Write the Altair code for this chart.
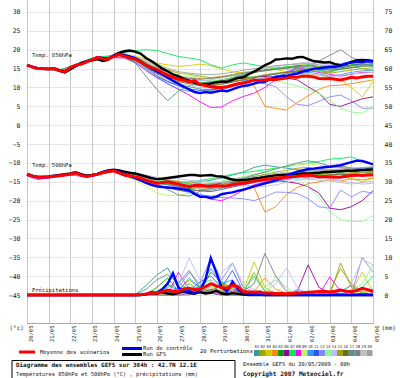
import altair as alt
import pandas as pd

MONO = "DejaVu Sans Mono"

# ---------------- axes / categories ----------------
dates = ["20/05", "21/05", "22/05", "23/05", "24/05", "25/05", "26/05", "27/05", "28/05",
         "29/05", "30/05", "31/05", "01/06", "02/06", "03/06", "04/06", "05/06"]
day_hours = list(range(0, 385, 24))
hours6 = list(range(0, 385, 6))
hours12 = list(range(0, 385, 12))
y_levels = list(range(-45, 31, 5))

member_ids = ["01", "02", "03", "04", "05", "06", "07", "08", "09", "10",
              "11", "12", "13", "14", "15", "16", "17", "18", "19", "20"]
member_colors = ["#339999", "#99a800", "#d4c800", "#ff8800", "#00a000", "#990099", "#00ee55",
                 "#ff00ff", "#c8f060", "#3399ff", "#3355ee", "#8888ff", "#88ff88", "#bbbbff",
                 "#a0a000", "#6b6b2a", "#5a9090", "#808080", "#c0c0c0", "#a0a0a0"]

# ---------------- main series (6 h steps) ----------------
mean_t850 = [15.9, 15.4, 15.0, 15.0, 14.9, 15.0, 14.5, 14.2, 15.3, 15.9, 16.2, 16.8, 17.3, 18.0, 17.6, 17.5,
             18.2, 18.7, 18.3, 17.8, 17.5, 16.8, 16.0, 15.3, 14.8, 14.0, 13.3, 12.7, 12.2, 12.0, 11.5, 11.8,
             10.8, 10.5, 10.2, 10.0, 10.0, 10.2, 10.6, 11.0, 11.2, 11.5, 12.0, 11.8, 12.0, 12.2, 12.1, 12.3,
             12.5, 12.8, 12.7, 13.0, 13.0, 12.8, 12.4, 12.3, 12.4, 12.2, 12.0, 12.3, 12.7, 12.5, 12.8, 13.0,
             13.0]
gfs_t850 = [15.9, 15.4, 15.0, 14.9, 14.9, 15.0, 14.4, 14.0, 14.8, 15.6, 16.5, 17.0, 17.2, 17.6, 17.0, 17.3,
            18.5, 19.2, 19.6, 19.8, 19.5, 19.0, 17.8, 17.0, 16.0, 15.0, 14.3, 13.5, 13.0, 12.3, 11.8, 11.3,
            10.8, 10.8, 11.0, 11.4, 11.5, 11.5, 12.0, 12.5, 12.7, 13.5, 14.2, 15.0, 15.9, 16.5, 17.4, 17.5,
            17.7, 17.6, 18.0, 18.1, 17.5, 17.0, 16.8, 16.6, 16.7, 16.2, 15.9, 16.2, 16.8, 17.2, 17.3, 17.2,
            17.0]
ctrl_t850 = [15.9, 15.5, 15.1, 15.0, 14.9, 15.1, 14.6, 14.3, 15.2, 15.8, 16.3, 16.9, 17.4, 18.0, 17.8, 17.6,
             18.4, 18.9, 18.6, 18.2, 17.8, 17.0, 16.0, 15.0, 14.2, 13.5, 12.6, 11.8, 11.0, 10.2, 9.5, 8.8,
             8.5, 8.8, 8.6, 8.9, 9.2, 9.0, 9.5, 10.0, 10.4, 10.6, 11.0, 11.4, 11.5, 12.2, 12.8, 13.0,
             13.0, 13.4, 13.7, 14.2, 14.5, 15.0, 15.1, 15.3, 15.5, 15.5, 15.8, 16.4, 16.6, 16.8, 16.7, 17.0,
             16.9]

mean_t500 = [-13.0, -13.5, -13.8, -13.7, -13.7, -13.5, -13.4, -13.2, -13.0, -12.6, -13.3, -13.6, -13.3, -13.0, -12.6, -12.3,
             -12.1, -12.6, -13.2, -13.4, -13.7, -14.0, -14.6, -15.0, -15.4, -15.2, -15.0, -15.3, -15.6, -16.0, -16.3, -16.0,
             -15.9, -16.1, -16.2, -16.0, -16.2, -16.1, -15.8, -15.6, -15.4, -15.1, -14.8, -14.6, -14.4, -14.2, -14.0, -13.9,
             -13.7, -13.6, -13.5, -13.3, -13.2, -13.4, -13.7, -13.6, -13.7, -13.8, -13.7, -13.5, -13.3, -13.2, -13.3, -13.2,
             -13.2]
gfs_t500 = [-13.0, -13.4, -13.7, -13.7, -13.6, -13.4, -13.2, -13.0, -12.8, -12.5, -13.0, -13.4, -13.2, -12.9, -12.4, -12.0,
            -11.8, -12.0, -12.3, -12.6, -12.8, -13.2, -13.6, -14.0, -14.3, -14.2, -14.0, -13.8, -13.6, -13.4, -13.2, -13.2,
            -13.4, -13.3, -13.2, -13.5, -13.6, -14.0, -14.4, -14.6, -14.5, -14.4, -14.2, -14.0, -13.7, -13.5, -13.3, -13.2,
            -13.2, -13.1, -13.0, -12.8, -12.8, -12.7, -12.6, -12.4, -12.4, -12.3, -12.2, -12.1, -12.1, -12.0, -11.9, -11.8,
            -11.7]
ctrl_t500 = [-13.0, -13.5, -13.8, -13.8, -13.7, -13.5, -13.3, -13.1, -12.9, -12.5, -13.2, -13.6, -13.4, -13.0, -12.5, -12.2,
             -12.0, -12.4, -13.0, -13.5, -14.0, -14.6, -15.3, -15.8, -16.2, -16.4, -16.5, -16.6, -16.8, -17.0, -17.3, -18.2,
             -19.0, -19.0, -19.3, -19.0, -18.3, -18.0, -17.8, -17.4, -17.1, -16.7, -16.2, -15.8, -15.4, -15.0, -14.6, -14.0,
             -13.4, -12.8, -12.3, -12.0, -11.6, -11.5, -11.3, -11.1, -11.0, -10.8, -10.6, -10.2, -9.8, -9.4, -9.5, -9.9,
             -10.4]

mean_precip = [0, 0, 0, 0, 0, 0, 0, 0, 0, 0, 0, 0, 0, 0, 0, 0,
               0, 0, 0, 0, 0, 0.1, 0.3, 0.6, 0.5, 0.9, 1.3, 1.0, 0.9, 1.6, 1.8, 1.4,
               1.6, 2.2, 3.0, 2.4, 2.0, 1.8, 2.6, 2.2, 0.9, 0.8, 0.7, 0.8, 0.5, 0.5, 0.4, 0.4,
               0.3, 0.4, 0.5, 0.6, 0.7, 0.8, 0.9, 1.0, 0.8, 1.0, 1.3, 1.0, 0.9, 1.2, 1.8, 1.4,
               1.0]
ctrl_precip = [0, 0, 0, 0, 0, 0, 0, 0, 0, 0, 0, 0, 0, 0, 0, 0,
               0, 0, 0, 0, 0, 0, 0.2, 0.8, 0.5, 1.5, 3.0, 5.8, 2.0, 0.8, 1.0, 0.5,
               1.2, 4.0, 9.8, 6.0, 2.0, 1.0, 3.5, 1.5, 0.5, 0.3, 0.2, 0.1, 0, 0, 0, 0,
               0, 0, 0, 0, 0, 0, 0, 0, 0, 0, 0, 0, 0, 0, 0, 0,
               0]
gfs_precip = [0, 0, 0, 0, 0, 0, 0, 0, 0, 0, 0, 0, 0, 0, 0, 0,
              0, 0, 0, 0, 0, 0, 0.2, 0.5, 0.3, 0.8, 0.4, 0.2, 0.5, 1.0, 0.5, 0.3,
              0.8, 0.4, 0.6, 1.2, 0.4, 0.2, 0.5, 0.3, 0.1, 0, 0, 0, 0, 0, 0, 0,
              0, 0, 0, 0, 0, 0, 0, 0, 0, 0, 0, 0, 0, 0, 0, 0,
              0]

# ---------------- perturbations (12 h steps), T850 ----------------
t850_p01 = [15.8, 15.1, 14.8, 14.6, 15.5, 16.4, 17.6, 17.9, 18.6, 18.9, 17.8, 15.4, 13.0, 11.5, 10.8, 10.2, 9.6,
            9.2, 9.8, 10.5, 11.6, 12.4, 13.0, 13.5, 14.2, 14.8, 15.0, 14.6, 14.2, 14.9, 15.3, 15.8, 15.6]
t850_p02 = [15.9, 15.0, 15.0, 14.4, 15.2, 16.1, 17.2, 17.8, 18.5, 18.6, 18.0, 16.8, 15.5, 14.6, 13.8, 13.5, 13.0,
            12.6, 12.9, 13.4, 14.0, 14.3, 14.7, 15.2, 15.0, 15.6, 15.9, 15.2, 14.8, 15.4, 15.9, 16.1, 15.8]
t850_p03 = [16.0, 15.1, 14.9, 14.6, 15.4, 16.3, 17.4, 17.5, 18.3, 18.6, 18.2, 17.4, 16.5, 16.0, 15.6, 15.8, 16.2,
            15.8, 14.9, 14.2, 13.8, 14.0, 14.5, 14.8, 14.2, 13.8, 13.5, 13.2, 12.8, 12.0, 10.0, 7.5, 11.5]
t850_p04 = [15.9, 15.0, 14.8, 14.5, 15.3, 16.2, 17.3, 17.7, 18.4, 18.5, 17.6, 16.0, 14.5, 13.6, 13.0, 12.6, 12.4,
            12.5, 12.8, 13.2, 12.8, 10.5, 5.0, 4.5, 4.0, 6.0, 7.8, 9.5, 10.5, 10.6, 11.0, 11.5, 12.0]
t850_p05 = [15.8, 14.9, 14.8, 14.4, 15.1, 16.0, 17.1, 17.4, 18.0, 18.2, 17.2, 15.6, 14.2, 12.8, 12.0, 11.6, 11.2,
            11.5, 12.0, 12.6, 13.2, 14.0, 14.6, 15.0, 15.4, 15.8, 16.0, 15.6, 15.2, 15.5, 16.0, 16.2, 16.0]
t850_p06 = [15.9, 15.0, 14.9, 14.5, 15.3, 16.2, 17.2, 17.6, 18.2, 18.4, 17.4, 15.8, 14.2, 13.0, 12.0, 11.4, 11.0,
            11.2, 11.8, 12.2, 12.6, 12.8, 12.9, 12.6, 12.5, 12.0, 10.2, 8.5, 5.5, 5.0, 6.0, 7.0, 7.5]
t850_p07 = [15.9, 15.1, 15.0, 14.7, 15.6, 16.6, 17.8, 18.2, 18.5, 19.2, 19.8, 20.0, 19.8, 19.0, 18.2, 17.8, 17.3,
            16.0, 15.1, 16.0, 16.5, 16.0, 15.5, 15.0, 15.5, 15.0, 15.5, 14.5, 14.0, 15.0, 15.5, 15.0, 14.5]
t850_p08 = [15.9, 14.9, 14.8, 14.3, 15.1, 16.0, 17.0, 17.3, 17.9, 17.8, 16.6, 14.5, 12.6, 11.0, 9.5, 8.0, 6.2,
            4.7, 4.8, 6.5, 7.6, 8.5, 10.0, 12.0, 14.0, 15.3, 14.5, 14.0, 13.5, 13.0, 13.5, 14.0, 14.0]
t850_p09 = [15.9, 15.0, 14.9, 14.5, 15.2, 16.1, 17.2, 17.6, 18.3, 18.7, 18.4, 17.5, 16.4, 15.2, 14.0, 13.2, 12.6,
            12.2, 12.5, 13.0, 13.8, 14.4, 15.0, 15.5, 16.0, 16.2, 15.8, 15.5, 15.0, 15.2, 15.6, 16.0, 15.8]
t850_p10 = [15.8, 15.0, 14.8, 14.4, 15.2, 16.0, 17.1, 17.4, 18.0, 18.0, 16.8, 14.8, 12.8, 11.0, 9.6, 9.0, 8.6,
            8.8, 9.4, 10.2, 11.0, 11.8, 12.2, 12.8, 13.3, 13.6, 14.0, 13.6, 13.0, 13.4, 14.0, 14.4, 14.6]
t850_p11 = [15.9, 15.0, 14.9, 14.5, 15.3, 16.2, 17.2, 17.5, 18.1, 18.3, 17.0, 15.2, 13.2, 11.6, 10.4, 9.6, 9.2,
            9.4, 9.8, 10.4, 11.2, 12.0, 12.6, 13.0, 13.6, 14.2, 14.5, 14.8, 15.0, 15.2, 15.8, 16.2, 16.4]
t850_p12 = [15.9, 15.0, 14.9, 14.5, 15.4, 16.3, 17.4, 17.7, 18.3, 18.5, 17.8, 16.6, 15.2, 14.0, 13.0, 12.5, 12.0,
            11.6, 11.4, 11.6, 12.0, 11.5, 11.0, 10.2, 7.5, 5.5, 5.2, 6.3, 7.5, 8.0, 6.5, 4.5, 4.5]
t850_p13 = [15.9, 15.1, 14.9, 14.6, 15.4, 16.2, 17.3, 17.7, 18.3, 18.6, 18.0, 16.8, 15.4, 14.0, 13.2, 12.6, 12.0,
            11.8, 12.0, 12.5, 13.0, 12.8, 12.5, 12.0, 11.0, 10.5, 9.5, 8.5, 6.5, 4.5, 3.5, 3.2, 5.0]
t850_p14 = [15.9, 15.0, 15.0, 14.6, 15.3, 16.2, 17.3, 17.6, 18.2, 18.4, 17.6, 16.0, 14.6, 13.4, 12.6, 12.2, 11.8,
            12.0, 12.6, 13.2, 13.8, 14.4, 15.0, 15.6, 16.0, 16.4, 16.8, 16.4, 16.0, 16.4, 16.8, 16.5, 16.2]
t850_p15 = [15.8, 15.0, 14.8, 14.5, 15.2, 16.1, 17.2, 17.5, 18.2, 18.4, 17.4, 15.8, 14.0, 12.8, 11.8, 11.2, 10.8,
            10.6, 11.0, 11.6, 12.2, 12.8, 13.4, 13.8, 14.0, 14.4, 14.6, 14.2, 13.8, 14.2, 14.6, 15.0, 15.2]
t850_p16 = [15.9, 15.0, 14.9, 14.5, 15.3, 16.2, 17.3, 17.6, 18.2, 18.3, 17.2, 15.4, 13.6, 12.4, 11.5, 11.0, 10.5,
            10.4, 10.8, 11.4, 12.0, 12.6, 13.2, 13.6, 14.0, 14.4, 14.8, 15.0, 14.6, 14.8, 15.2, 15.6, 15.8]
t850_p17 = [15.9, 15.0, 14.9, 14.5, 15.3, 16.2, 17.3, 17.7, 18.2, 18.0, 16.5, 13.0, 9.5, 6.5, 9.0, 10.5, 11.0,
            10.5, 11.5, 12.5, 13.5, 14.0, 14.4, 14.8, 15.2, 15.6, 15.8, 15.4, 15.0, 15.4, 15.8, 16.0, 16.2]
t850_p18 = [15.9, 15.0, 14.9, 14.5, 15.3, 16.2, 17.3, 17.6, 18.2, 18.4, 17.6, 16.2, 14.8, 13.6, 12.8, 12.4, 12.2,
            12.4, 12.8, 13.2, 13.8, 14.2, 14.6, 14.8, 15.0, 15.4, 15.5, 17.0, 18.5, 20.0, 18.0, 16.8, 16.5]
t850_p19 = [15.9, 15.1, 14.8, 14.5, 15.2, 16.2, 17.2, 17.6, 18.1, 18.2, 17.0, 15.0, 13.2, 12.0, 11.0, 10.5, 10.0,
            9.8, 10.2, 10.8, 11.4, 12.0, 12.4, 12.8, 13.0, 13.4, 13.6, 13.2, 12.8, 13.2, 13.6, 13.8, 14.0]
t850_p20 = [16.0, 15.0, 15.0, 14.6, 15.3, 16.3, 17.4, 17.7, 18.3, 18.5, 18.0, 17.0, 16.0, 15.0, 14.2, 13.8, 13.5,
            13.4, 13.6, 14.0, 14.6, 15.0, 15.4, 15.8, 16.0, 16.2, 16.4, 16.0, 15.6, 16.0, 16.4, 16.6, 16.8]

# ---------------- perturbations (12 h steps), T500 ----------------
t500_p01 = [-13.0, -13.9, -13.6, -13.3, -12.8, -13.1, -13.2, -12.4, -11.8, -12.8, -13.2, -13.8, -14.4, -14.6, -15.0, -15.4, -15.0,
            -14.6, -14.0, -13.2, -12.4, -11.2, -10.6, -11.0, -11.4, -11.8, -12.0, -12.4, -12.2, -11.8, -12.0, -11.6, -11.4]
t500_p02 = [-13.1, -13.7, -13.8, -13.5, -13.1, -13.4, -13.2, -12.5, -12.2, -13.0, -13.4, -14.2, -15.0, -15.4, -16.0, -16.6, -16.2,
            -15.8, -15.2, -14.6, -14.0, -13.6, -13.0, -12.4, -12.0, -11.4, -11.2, -11.6, -12.0, -12.4, -12.2, -12.6, -12.8]
t500_p03 = [-13.0, -13.8, -13.7, -13.4, -12.9, -13.2, -13.4, -12.7, -12.3, -13.2, -13.4, -14.0, -14.6, -14.4, -14.8, -15.2, -15.6,
            -16.0, -15.8, -15.4, -14.8, -14.2, -13.8, -13.4, -13.2, -13.0, -12.8, -13.0, -13.2, -13.6, -14.2, -15.0, -14.0]
t500_p04 = [-13.0, -13.8, -13.6, -13.4, -13.0, -13.3, -13.4, -12.8, -12.2, -13.4, -14.0, -14.8, -15.6, -15.2, -15.8, -16.4, -16.8,
            -17.0, -16.6, -16.0, -15.5, -16.5, -23.0, -21.6, -18.4, -16.5, -15.5, -15.0, -14.5, -14.8, -14.2, -14.5, -14.0]
t500_p05 = [-12.9, -13.7, -13.6, -13.3, -12.9, -13.2, -13.1, -12.4, -12.0, -13.0, -13.6, -14.4, -15.2, -15.6, -16.2, -16.8, -16.4,
            -16.0, -15.6, -15.0, -14.4, -14.0, -13.6, -13.2, -12.8, -12.6, -12.8, -13.0, -12.6, -12.4, -12.2, -12.0, -12.2]
t500_p06 = [-13.0, -13.8, -13.7, -13.4, -13.0, -13.3, -13.3, -12.6, -12.1, -13.2, -13.8, -14.6, -15.2, -15.0, -15.4, -15.8, -15.6,
            -15.6, -15.4, -15.2, -15.0, -14.6, -14.4, -14.6, -15.0, -15.4, -16.3, -18.0, -22.0, -22.4, -21.6, -20.0, -17.4]
t500_p07 = [-13.0, -13.7, -13.7, -13.4, -13.0, -13.2, -13.2, -12.4, -11.9, -12.8, -13.2, -13.8, -14.4, -14.8, -15.2, -15.0, -14.6,
            -14.2, -13.6, -13.0, -12.6, -12.2, -11.8, -11.4, -11.0, -10.4, -10.0, -9.6, -9.0, -8.8, -8.4, -9.6, -10.4]
t500_p08 = [-13.4, -14.4, -14.0, -13.6, -13.2, -13.5, -13.6, -12.8, -12.3, -13.4, -14.0, -15.0, -15.8, -16.4, -17.0, -17.4, -18.4,
            -19.6, -20.0, -18.8, -17.2, -15.8, -15.0, -14.6, -14.2, -13.8, -13.6, -13.4, -13.8, -14.0, -13.6, -13.2, -13.0]
t500_p09 = [-13.0, -13.8, -13.7, -13.4, -13.0, -13.3, -13.3, -12.6, -12.1, -13.4, -14.4, -16.2, -18.0, -18.6, -18.6, -18.0, -17.0,
            -16.4, -15.6, -14.8, -14.0, -13.2, -12.4, -11.6, -10.8, -10.4, -10.2, -10.6, -11.0, -10.8, -11.2, -11.6, -12.0]
t500_p10 = [-13.0, -13.8, -13.8, -13.5, -13.1, -13.4, -13.4, -12.7, -12.2, -13.3, -14.0, -15.0, -16.0, -16.4, -17.2, -17.8, -18.4,
            -18.8, -18.4, -17.8, -17.0, -16.2, -15.6, -15.0, -14.4, -14.0, -13.8, -13.4, -13.2, -13.0, -12.8, -12.6, -12.4]
t500_p11 = [-13.0, -13.8, -13.7, -13.4, -13.0, -13.3, -13.3, -12.6, -12.1, -13.0, -13.6, -14.4, -15.4, -15.8, -16.4, -17.0, -17.4,
            -17.6, -17.0, -16.4, -15.8, -15.2, -14.6, -14.2, -13.8, -13.4, -13.0, -12.6, -12.2, -12.0, -11.6, -11.4, -11.2]
t500_p12 = [-13.0, -13.8, -13.7, -13.4, -13.0, -13.3, -13.3, -12.6, -12.1, -13.0, -13.4, -14.0, -15.0, -15.6, -16.5, -17.5, -18.5,
            -19.0, -19.2, -19.3, -19.5, -20.0, -19.0, -17.7, -17.8, -18.1, -19.5, -21.6, -22.0, -17.2, -19.0, -17.5, -18.0]
t500_p13 = [-13.0, -13.8, -13.7, -13.4, -13.0, -13.3, -13.3, -12.6, -12.1, -13.0, -13.4, -14.0, -14.6, -14.8, -15.4, -15.8, -15.6,
            -15.2, -14.8, -14.2, -13.6, -13.0, -12.6, -12.8, -13.4, -14.4, -16.4, -19.0, -23.0, -25.0, -25.5, -25.5, -24.0]
t500_p14 = [-13.0, -13.8, -13.7, -13.4, -13.0, -13.3, -13.3, -12.6, -12.1, -12.6, -12.8, -13.2, -13.8, -14.0, -14.2, -14.6, -14.8,
            -15.0, -15.2, -15.6, -16.0, -16.4, -16.2, -15.8, -15.2, -14.6, -14.2, -14.0, -14.4, -14.8, -15.2, -15.6, -15.4]
t500_p15 = [-13.0, -13.8, -13.7, -13.4, -13.0, -13.3, -13.4, -12.7, -12.2, -13.2, -13.8, -14.6, -15.4, -15.6, -16.0, -16.4, -16.6,
            -16.4, -16.0, -15.4, -14.6, -14.0, -13.6, -13.2, -13.0, -12.8, -12.6, -12.8, -13.0, -12.8, -12.6, -12.4, -12.6]
t500_p16 = [-13.0, -13.8, -13.7, -13.4, -13.0, -13.3, -13.3, -12.6, -12.1, -13.4, -14.2, -15.2, -16.0, -16.6, -17.2, -17.6, -17.2,
            -16.8, -16.2, -15.6, -15.0, -14.6, -14.2, -13.8, -13.4, -13.2, -13.4, -13.6, -13.2, -13.0, -13.2, -13.4, -13.0]
t500_p17 = [-13.0, -13.8, -13.7, -13.4, -13.0, -13.3, -13.3, -12.6, -12.1, -13.2, -13.8, -14.4, -15.5, -17.0, -18.5, -18.8, -17.5,
            -16.6, -15.8, -15.0, -14.0, -13.2, -12.4, -11.6, -10.8, -10.0, -9.4, -10.0, -10.8, -11.2, -11.6, -12.0, -12.2]
t500_p18 = [-13.0, -13.8, -13.7, -13.4, -13.0, -13.3, -13.3, -12.6, -12.1, -13.2, -13.6, -14.2, -15.0, -15.4, -16.2, -17.0, -17.4,
            -17.2, -16.6, -15.8, -15.0, -14.4, -13.8, -13.2, -12.8, -12.4, -12.0, -11.6, -11.2, -10.8, -11.4, -12.0, -12.2]
t500_p19 = [-13.0, -13.8, -13.7, -13.4, -13.0, -13.3, -13.3, -12.6, -12.1, -13.0, -13.4, -14.0, -14.8, -15.2, -15.8, -16.4, -16.8,
            -17.0, -16.6, -16.0, -15.4, -14.8, -14.2, -13.8, -13.6, -13.8, -14.2, -14.6, -14.8, -15.2, -15.6, -15.2, -14.8]
t500_p20 = [-13.0, -13.8, -13.7, -13.4, -13.0, -13.3, -13.3, -12.6, -12.1, -12.8, -13.0, -13.6, -14.2, -14.6, -15.0, -15.6, -15.8,
            -15.6, -15.2, -14.6, -14.0, -13.6, -13.2, -12.8, -12.6, -12.4, -12.2, -12.0, -11.8, -11.6, -11.4, -11.2, -11.0]

# ---------------- perturbations (12 h steps), precipitation mm ----------------
pr_p01 = [0, 0, 0, 0, 0, 0, 0, 0, 0, 0, 0, 2.5, 5.3, 7.2, 2.0, 0.5, 1.5, 0.8, 0.3, 1.0, 0, 0.2, 0, 0, 0, 0, 0, 0, 0, 0.5, 0, 0, 0]
pr_p02 = [0, 0, 0, 0, 0, 0, 0, 0, 0, 0, 0, 0, 1.0, 2.5, 1.5, 4.0, 2.0, 1.0, 3.0, 1.0, 0.5, 6.0, 1.0, 0, 0, 0, 0, 0, 0, 8.5, 2.0, 0.5, 0]
pr_p03 = [0, 0, 0, 0, 0, 0, 0, 0, 0, 0, 0, 0, 0, 1.0, 0.5, 2.0, 0.5, 1.5, 3.0, 2.0, 1.0, 8.8, 2.0, 0.5, 0, 0, 0, 0, 0, 0, 1.0, 6.0, 1.0]
pr_p04 = [0, 0, 0, 0, 0, 0, 0, 0, 0, 0, 0, 0, 0, 0, 0.5, 1.0, 0.5, 2.5, 1.0, 2.0, 0.5, 1.0, 4.5, 1.5, 0.5, 0, 0, 0, 0, 0, 0, 0, 0]
pr_p05 = [0, 0, 0, 0, 0, 0, 0, 0, 0, 0, 0, 0, 2.0, 4.5, 1.0, 3.0, 1.0, 6.0, 3.5, 1.5, 0.5, 0, 0, 0, 0, 0, 0, 0, 0, 0, 0, 0.5, 0]
pr_p06 = [0, 0, 0, 0, 0, 0, 0, 0, 0, 0, 0, 0, 0, 0, 0, 0.5, 1.0, 0.5, 0, 0, 0, 0, 0, 0, 0, 1.0, 8.0, 2.0, 0.5, 1.5, 0.5, 2.0, 0.5]
pr_p07 = [0, 0, 0, 0, 0, 0, 0, 0, 0, 0, 0, 0, 1.0, 2.0, 3.5, 1.0, 2.5, 4.0, 1.5, 3.0, 1.0, 5.0, 1.0, 0, 0, 0, 0, 0, 0, 0, 0, 2.0, 5.0]
pr_p08 = [0, 0, 0, 0, 0, 0, 0, 0, 0, 0, 0, 0, 0, 0, 6.0, 1.5, 2.0, 1.0, 0.5, 1.5, 0, 0, 0, 0, 0, 0, 0, 0, 4.8, 1.0, 0.5, 0, 0]
pr_p09 = [0, 0, 0, 0, 0, 0, 0, 0, 0, 0, 0, 0, 0, 1.5, 0.5, 2.0, 1.0, 2.5, 1.0, 1.5, 3.0, 6.0, 2.0, 0, 0, 0, 0, 0, 0, 0, 0, 1.0, 0]
pr_p10 = [0, 0, 0, 0, 0, 0, 0, 0, 0, 0, 0, 0, 0, 3.0, 1.0, 4.5, 2.0, 7.0, 3.0, 4.0, 1.0, 0.5, 0, 0, 0, 0, 0, 0, 0, 0, 0, 0, 0]
pr_p11 = [0, 0, 0, 0, 0, 0, 0, 0, 0, 0, 0, 0, 0, 0, 2.0, 1.0, 3.5, 5.0, 2.0, 6.5, 1.0, 0, 0, 0, 0, 0, 0, 0, 0, 0, 0, 0, 0]
pr_p12 = [0, 0, 0, 0, 0, 0, 0, 0, 0, 0, 0, 0, 0, 0.5, 2.0, 6.0, 3.0, 9.8, 4.0, 8.5, 2.0, 1.0, 0, 0, 0, 1.5, 0.5, 0, 0, 0, 0, 10.0, 6.0]
pr_p13 = [0, 0, 0, 0, 0, 0, 0, 0, 0, 0, 0, 0, 0, 0, 1.0, 3.0, 1.0, 2.0, 0.5, 0, 0, 0, 0, 5.0, 2.0, 0, 0, 0, 0, 0, 1.0, 3.0, 8.0]
pr_p14 = [0, 0, 0, 0, 0, 0, 0, 0, 0, 0, 0, 0, 0, 1.0, 3.0, 9.8, 4.0, 2.0, 6.0, 8.5, 3.0, 1.5, 0.5, 3.0, 7.2, 2.0, 0, 0, 0, 0, 3.0, 9.5, 8.0]
pr_p15 = [0, 0, 0, 0, 0, 0, 0, 0, 0, 0, 0, 0, 0, 0.5, 1.5, 0.5, 2.0, 1.0, 3.0, 1.0, 0, 0, 0, 0, 0, 0, 0, 0, 1.0, 7.0, 3.0, 1.0, 0]
pr_p16 = [0, 0, 0, 0, 0, 0, 0, 0, 0, 0, 0, 0, 0, 0, 1.0, 2.0, 0.5, 1.5, 1.0, 0, 0, 0, 0, 0, 0, 0, 0, 0, 0, 0, 0, 0, 0]
pr_p17 = [0, 0, 0, 0, 0, 0, 0, 0, 0, 0, 0, 1.5, 4.0, 5.5, 3.0, 6.5, 2.0, 1.0, 2.5, 0.5, 0, 0, 0, 0, 0, 0, 0, 0, 0, 0, 0, 0, 0]
pr_p18 = [0, 0, 0, 0, 0, 0, 0, 0, 0, 0, 0, 0, 0, 0, 0, 0, 1.5, 0.5, 0, 0, 1.0, 3.0, 11.0, 5.0, 1.0, 0.5, 0, 0, 0, 1.0, 2.5, 0.5, 0]
pr_p19 = [0, 0, 0, 0, 0, 0, 0, 0, 0, 0, 0, 0, 0, 0, 0, 1.0, 0.5, 2.0, 0, 0, 0, 0, 2.0, 4.0, 1.0, 0, 0, 0, 0, 0, 0, 0, 0]
pr_p20 = [0, 0, 0, 0, 0, 0, 0, 0, 0, 0, 0, 0, 0, 0, 0.5, 1.5, 1.0, 3.0, 1.5, 2.0, 0.5, 0, 0, 0, 0, 0, 0, 0, 0, 0, 0, 0, 0]

t850_members = [t850_p01, t850_p02, t850_p03, t850_p04, t850_p05, t850_p06, t850_p07, t850_p08, t850_p09, t850_p10,
                t850_p11, t850_p12, t850_p13, t850_p14, t850_p15, t850_p16, t850_p17, t850_p18, t850_p19, t850_p20]
t500_members = [t500_p01, t500_p02, t500_p03, t500_p04, t500_p05, t500_p06, t500_p07, t500_p08, t500_p09, t500_p10,
                t500_p11, t500_p12, t500_p13, t500_p14, t500_p15, t500_p16, t500_p17, t500_p18, t500_p19, t500_p20]
pr_members = [pr_p01, pr_p02, pr_p03, pr_p04, pr_p05, pr_p06, pr_p07, pr_p08, pr_p09, pr_p10,
              pr_p11, pr_p12, pr_p13, pr_p14, pr_p15, pr_p16, pr_p17, pr_p18, pr_p19, pr_p20]

# ---------------- long table ----------------
rows = []


def add(series, kind, var, hours, vals):
    for h, v in zip(hours, vals):
        rows.append({"series": series, "kind": kind, "var": var, "key": series + "_" + var,
                     "hour": h, "value": v})


for mid, a, b, c in zip(member_ids, t850_members, t500_members, pr_members):
    add(mid, "pert", "t850", hours12, a)
    add(mid, "pert", "t500", hours12, b)
    add(mid, "pert", "precip", hours12, c)
for name, kind, vals850, vals500, valspr in [
    ("gfs", "gfs", gfs_t850, gfs_t500, gfs_precip),
    ("ctrl", "ctrl", ctrl_t850, ctrl_t500, ctrl_precip),
    ("mean", "mean", mean_t850, mean_t500, mean_precip),
]:
    add(name, kind, "t850", hours6, vals850)
    add(name, kind, "t500", hours6, vals500)
    add(name, kind, "precip", hours6, valspr)

df = pd.DataFrame(rows)

# ---------------- scales & axes ----------------
xs = alt.Scale(domain=[0, 384], nice=False, zero=False)
ys = alt.Scale(domain=[-52.42, 33.18], nice=False, zero=False)
date_array = "[" + ",".join("'%s'" % d for d in dates) + "]"

xaxis = alt.Axis(values=day_hours, labelExpr=date_array + "[round(datum.value/24)]",
                 labelAngle=270, labelFont=MONO, labelFontSize=5.5, labelColor="#222",
                 labelPadding=2, labelOffset=3, labelFlush=False, labelOverlap=False,
                 ticks=False, domain=True, domainColor="#aaaaaa", grid=True,
                 gridColor="#c8c8c8", gridWidth=1, title=None)
yaxis_left = alt.Axis(values=y_levels, orient="left", labelFont=MONO, labelFontSize=6.5,
                      labelColor="#222", labelPadding=7, labelFlush=False, labelOverlap=False,
                      ticks=False, domain=False, grid=True, gridColor="#bdbdbd",
                      gridDash=[1, 2], gridWidth=1,
                      title="(°c)", titleAngle=0, titleX=-18, titleY=327, titleAlign="left",
                      titleBaseline="middle", titleFont=MONO, titleFontSize=6,
                      titleFontWeight="normal", titleColor="#222")
yaxis_right = alt.Axis(values=y_levels, orient="right", labelExpr="datum.value + 45",
                       labelFont=MONO, labelFontSize=6.5, labelColor="#222", labelPadding=11,
                       labelFlush=False, labelOverlap=False, ticks=False, domain=False,
                       grid=False, title="(mm)", titleAngle=0, titleX=8, titleY=327,
                       titleAlign="left", titleBaseline="middle", titleFont=MONO,
                       titleFontSize=6, titleFontWeight="normal", titleColor="#222")

X = alt.X("hour:Q", scale=xs, axis=xaxis, title=None)
color_scale = alt.Scale(domain=member_ids, range=member_colors)

base = alt.Chart(df).transform_calculate(
    yv="datum.var === 'precip' ? datum.value - 45 : datum.value")

pert = base.transform_filter("datum.kind === 'pert'").mark_line(strokeWidth=0.9).encode(
    x=X, y=alt.Y("yv:Q", scale=ys, axis=yaxis_left),
    color=alt.Color("series:N", scale=color_scale, legend=None),
    detail="key:N")
gfs = base.transform_filter("datum.kind === 'gfs'").mark_line(strokeWidth=2.4, color="#000000").encode(
    x=X, y=alt.Y("yv:Q", scale=ys, axis=None), detail="key:N")
ctrl = base.transform_filter("datum.kind === 'ctrl'").mark_line(strokeWidth=2.4, color="#0000ff").encode(
    x=X, y=alt.Y("yv:Q", scale=ys, axis=None), detail="key:N")
mean = base.transform_filter("datum.kind === 'mean'").mark_line(strokeWidth=3, color="#ff0000").encode(
    x=X, y=alt.Y("yv:Q", scale=ys, axis=yaxis_right), detail="key:N")

one = pd.DataFrame({"a": [0]})


def label(text, x, y, size=5.5, bold=False, align="left", color="#111"):
    return alt.Chart(one).mark_text(
        text=text, align=align, baseline="middle", font=MONO, fontSize=size,
        fontWeight="bold" if bold else "normal", color=color).encode(
        x=alt.value(x), y=alt.value(y))


def hrule(x1, x2, y, color, width):
    return alt.Chart(one).mark_rule(color=color, strokeWidth=width).encode(
        x=alt.value(x1), x2=alt.value(x2), y=alt.value(y))


panel_labels = [
    label("Temp. 850hPa", 5, 55),
    label("Temp. 500hPa", 5, 165),
    label("Précipitations", 5, 290),
]

# legend (below the plot)
legend_layers = [
    hrule(-8, 8, 352, "#ff0000", 3),
    label("Moyenne des scénarios", 13, 352),
    hrule(95, 115, 348.5, "#0000ff", 3),
    hrule(95, 115, 354.5, "#000000", 3),
    label("Run de contrôle", 116, 348),
    label("Run GFS", 116, 354),
    label("20 Perturbations", 173, 351),
]

sw = alt.Chart(pd.DataFrame({"series": member_ids, "idx": list(range(20))})).transform_calculate(
    h0="251.9 + datum.idx * 6.58", h1="datum.h0 + 6.58", hc="datum.h0 + 3.29")
swatches = sw.mark_rect().encode(
    x=alt.X("h0:Q", scale=xs, axis=xaxis, title=None), x2="h1:Q",
    y=alt.value(350), y2=alt.value(356),
    color=alt.Color("series:N", scale=color_scale, legend=None))
swatch_labels = sw.mark_text(font=MONO, fontSize=3.9, color="#222", baseline="middle").encode(
    x=alt.X("hc:Q", scale=xs, axis=xaxis, title=None), y=alt.value(346.5), text="series:N")

title_box = alt.Chart(one).mark_rect(fill="white", stroke="#000", strokeWidth=1).encode(
    x=alt.value(-15), x2=alt.value(208), y=alt.value(360.5), y2=alt.value(386))
title_layers = [
    title_box,
    label("Diagramme des ensembles GEFS sur 384h : 42.7N 12.1E", -11, 365, size=5.9, bold=True),
    label("Températures 850hPa et 500hPa (°C) , précipitations (mm)", -11, 373.5, size=5.4),
    label("Ensemble GEFS du 20/05/2009 - 00h", 216, 363.5, size=5.4),
    label("Copyright 2007 Meteociel.fr", 216, 373.5, size=6.2, bold=True),
]

chart = alt.layer(
    pert, gfs, ctrl, mean, *panel_labels, *legend_layers, swatches, swatch_labels, *title_layers
).resolve_scale(y="shared").resolve_axis(y="independent").properties(
    width=346, height=323,
    autosize=alt.AutoSizeParams(type="none"),
    padding={"left": 27, "top": 0, "right": 27, "bottom": 55},
    background="white",
).configure_view(stroke=None)

chart.save("out.html", embed_options={"renderer": "svg", "actions": False})
